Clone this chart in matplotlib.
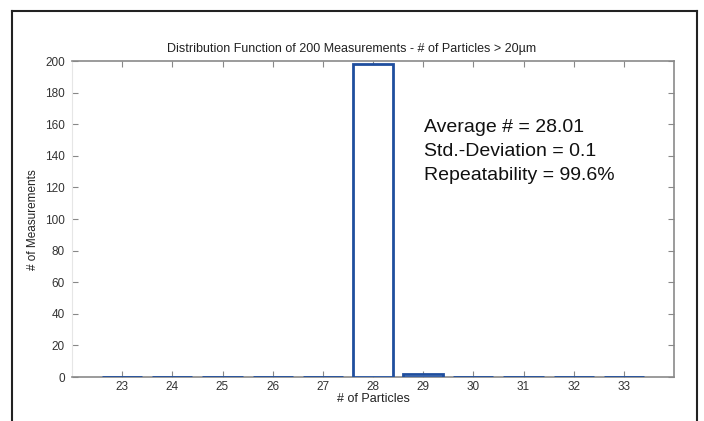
import matplotlib
matplotlib.use("Agg")
import matplotlib.pyplot as plt
from matplotlib.lines import Line2D

particles = [23, 24, 25, 26, 27, 28, 29, 30, 31, 32, 33]
counts = [0, 0, 0, 0, 0, 198, 2, 0, 0, 0, 0]
yticks = [0, 20, 40, 60, 80, 100, 120, 140, 160, 180, 200]
stats_lines = ["Average # = 28.01", "Std.-Deviation = 0.1", "Repeatability = 99.6%"]
title = "Distribution Function of 200 Measurements - # of Particles > 20\u00b5m"

plt.rcParams["font.family"] = ["Liberation Sans", "DejaVu Sans"]

W, H = 704, 421
fig = plt.figure(figsize=(W/100, H/100), dpi=100)
fig.patch.set_facecolor("white")

def fx(px): return px / W
def fy(py): return 1 - py / H

left, right, top, bottom = 72, 674, 61, 377
ax = fig.add_axes([fx(left), fy(bottom), fx(right) - fx(left), fy(top) - fy(bottom)])

ax.bar(particles, counts, width=0.8, facecolor="white", edgecolor="#1f4e9e", linewidth=2, zorder=3)

ax.set_xlim(22, 34)
ax.set_ylim(0, 200)
ax.set_xticks(particles)
ax.set_yticks(yticks)
ax.tick_params(axis="both", direction="in", length=4, width=0.8, color="#888888",
               labelsize=8.5, labelcolor="#333333", top=True, right=True)
ax.tick_params(axis="x", pad=3)
ax.tick_params(axis="y", pad=5)
for s in ["top", "right", "bottom"]:
    ax.spines[s].set_color("#8a8a8a")
    ax.spines[s].set_linewidth(1.2)
ax.spines["left"].set_color("#e6e6e6")
ax.spines["left"].set_linewidth(0.8)

fig.text(fx(352), fy(49), title, fontsize=9, color="#222222", ha="center", va="center")
fig.text(fx(373), fy(399), "# of Particles", fontsize=9, color="#222222", ha="center", va="center")
fig.text(fx(33), fy(220), "# of Measurements", fontsize=8.5, color="#222222", ha="center",
         va="center", rotation=90)

for i, t in enumerate(stats_lines):
    fig.text(fx(424), fy(127 + 24 * i), t, fontsize=14, color="#111111",
             va="center", ha="left")

# outer frame (open at bottom)
fc = "#222222"
fig.add_artist(Line2D([fx(12), fx(12)], [fy(11), 0], color=fc, lw=1.5, transform=fig.transFigure))
fig.add_artist(Line2D([fx(697), fx(697)], [fy(11), 0], color=fc, lw=1.5, transform=fig.transFigure))
fig.add_artist(Line2D([fx(12), fx(697)], [fy(11), fy(11)], color=fc, lw=1.5, transform=fig.transFigure))

fig.savefig("out.png", dpi=100)
